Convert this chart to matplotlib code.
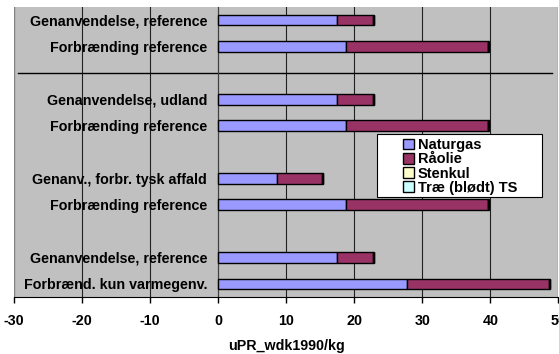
import matplotlib
matplotlib.use('Agg')
import matplotlib.pyplot as plt
from matplotlib.patches import Rectangle
import numpy as np

plt.rcParams['font.family'] = ['Liberation Sans', 'DejaVu Sans']
plt.rcParams['font.weight'] = 'bold'
plt.rcParams['axes.unicode_minus'] = False

# rows top to bottom, '' = empty row
labels = ['Genanvendelse, reference', 'Forbrænding reference', '',
          'Genanvendelse, udland', 'Forbrænding reference', '',
          'Genanv., forbr. tysk affald', 'Forbrænding reference', '',
          'Genanvendelse, reference', 'Forbrænd. kun varmegenv.']
naturgas = [17.5, 18.8, 0, 17.5, 18.8, 0, 8.6, 18.8, 0, 17.5, 27.8]
raolie = [5.3, 20.8, 0, 5.3, 20.8, 0, 6.7, 20.8, 0, 5.3, 20.9]
stenkul = [0.1, 0.1, 0, 0.1, 0.1, 0, 0.1, 0.1, 0, 0.1, 0.1]
trae = [0.05, 0.05, 0, 0.05, 0.05, 0, 0.05, 0.05, 0, 0.05, 0.05]

series = [('Naturgas', naturgas, '#9999FF'),
          ('Råolie', raolie, '#993366'),
          ('Stenkul', stenkul, '#FFFFCC'),
          ('Træ (blødt) TS', trae, '#CCFFFF')]

W, H = 559, 354
fig = plt.figure(figsize=(W / 100, H / 100), dpi=100)
ax = fig.add_axes([14 / W, 1 - 297 / H, 544.3 / W, 290 / H])
ax.set_facecolor('#C0C0C0')

y = np.arange(len(labels))
left = np.zeros(len(labels))
for name, vals, col in series:
    vals = np.array(vals)
    mask = vals > 0
    ax.barh(y[mask], vals[mask], left=left[mask], height=0.4, color=col,
            edgecolor='black', linewidth=1, label=name, zorder=3)
    left += vals

ax.set_xlim(-30, 50)
ax.set_ylim(len(labels) - 0.5, -0.5)
ax.set_xticks(np.arange(-30, 51, 10))
for xv in range(-20, 50, 10):
    ax.axvline(xv, color='#202020', lw=0.8, zorder=1)
ax.axvline(-30, color='#808080', lw=1, zorder=1)
ax.axvline(50, color='#808080', lw=1, zorder=1)

# separator line between groups
ax.plot([-29.4, 49.1], [2, 2], color='black', lw=1, zorder=2)

for sp in ['top', 'right']:
    ax.spines[sp].set_visible(False)
ax.spines['left'].set_position(('data', 0))
ax.spines['left'].set_color('#404040')
ax.spines['bottom'].set_color('black')

ax.set_yticks(y)
ax.set_yticklabels(labels)
ax.tick_params(axis='y', length=0, pad=8, labelsize=10.3)
ax.tick_params(axis='x', direction='out', length=4, width=1, pad=8, labelsize=10.3)
ax.set_xlabel('uPR_wdk1990/kg', fontsize=10.3, fontweight='bold', labelpad=8)

# legend box (Excel style, wider than its entries)
fig.patches.append(Rectangle((377 / W, 1 - 197 / H), 165 / W, 63 / H,
                             transform=fig.transFigure, facecolor='white',
                             edgecolor='black', lw=0.8, zorder=5))
leg = fig.legend(loc='upper left', bbox_to_anchor=(403 / W, 1 - 138 / H),
                 fontsize=10.5, frameon=False, borderpad=0, labelspacing=0.02,
                 handlelength=0.75, handleheight=0.75, handletextpad=0.25,
                 borderaxespad=0)
leg.set_zorder(6)
for t in leg.get_texts():
    t.set_fontweight('bold')

fig.savefig('out.png', dpi=100)
